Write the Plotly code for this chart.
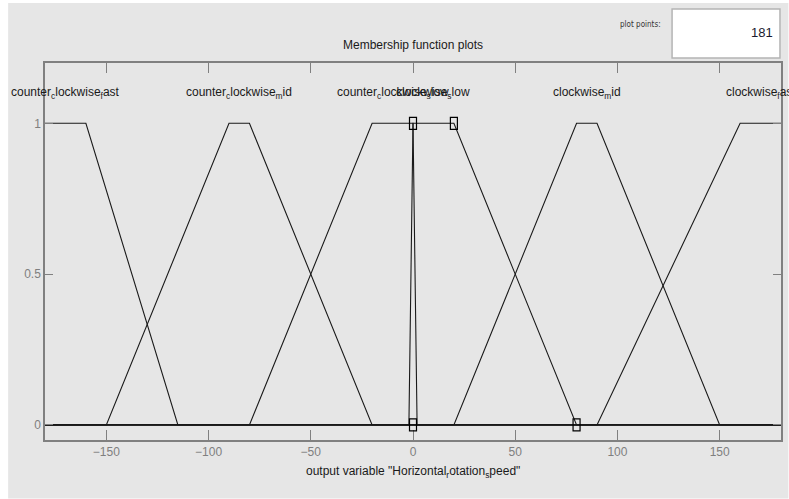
import plotly.graph_objects as go

# Output variable "Horizontal_rotation_speed": trapezoidal membership functions
# (vertices of each function across the full range [-180, 180])
mf_names = [
    "counter<sub>c</sub>lockwise<sub>f</sub>ast",
    "counter<sub>c</sub>lockwise<sub>m</sub>id",
    "counter<sub>c</sub>lockwise<sub>s</sub>low",
    "clockwise<sub>s</sub>low",
    "clockwise<sub>m</sub>id",
    "clockwise<sub>f</sub>ast",
]
ccw_fast_x = [-180, -160, -115, 180]
ccw_fast_y = [1, 1, 0, 0]
ccw_mid_x = [-180, -150, -90, -80, -20, 180]
ccw_mid_y = [0, 0, 1, 1, 0, 0]
ccw_slow_x = [-180, -80, -20, 0, 2, 180]
ccw_slow_y = [0, 0, 1, 1, 0, 0]
cw_slow_x = [-180, -2, 0, 20, 80, 180]
cw_slow_y = [0, 0, 1, 1, 0, 0]
cw_mid_x = [-180, 20, 80, 90, 150, 180]
cw_mid_y = [0, 0, 1, 1, 0, 0]
cw_fast_x = [-180, 90, 160, 180]
cw_fast_y = [0, 0, 1, 1]

# label position: centre of each plateau
label_x = [-170, -85, -10, 10, 85, 170]
label_y = 1.1

# parameters of the selected function (clockwise_slow), shown as handles
handle_x = [0, 20, 0, 80]
handle_y = [1, 1, 0, 0]

x_ticks = [-150, -100, -50, 0, 50, 100, 150]
y_ticks = [0, 0.5, 1]
plot_points = 181

series = [
    (ccw_fast_x, ccw_fast_y), (ccw_mid_x, ccw_mid_y), (ccw_slow_x, ccw_slow_y),
    (cw_slow_x, cw_slow_y), (cw_mid_x, cw_mid_y), (cw_fast_x, cw_fast_y),
]

FONT = "Liberation Sans, Arial, sans-serif"
fig = go.Figure()
for (xs, ys), name in zip(series, mf_names):
    fig.add_trace(go.Scatter(x=xs, y=ys, mode="lines", name=name,
                             line=dict(color="#1a1a1a", width=1.1),
                             hoverinfo="skip", showlegend=False))

# handles: small upright rectangles, fixed pixel size, anchored at each vertex
for hx, hy in zip(handle_x, handle_y):
    fig.add_shape(type="rect", xref="x", yref="y",
                  xsizemode="pixel", ysizemode="pixel",
                  xanchor=hx, yanchor=hy, x0=-3.5, x1=3.5, y0=-6, y1=6,
                  line=dict(color="#000000", width=1.2), fillcolor="rgba(0,0,0,0)")

for lx, name in zip(label_x, mf_names):
    fig.add_annotation(x=lx, y=label_y, xref="x", yref="y", text=name,
                       showarrow=False, font=dict(family=FONT, size=12, color="#1a1a1a"),
                       xanchor="center", yanchor="middle")

# figure panel background
fig.add_shape(type="rect", xref="paper", yref="paper",
              x0=-0.0501, x1=1.01, y0=-0.155, y1=1.159,
              fillcolor="#e6e6e6", line=dict(width=0), layer="below")

# plot points box
fig.add_shape(type="rect", xref="paper", yref="paper",
              x0=0.852, x1=0.9986, y0=1.013, y1=1.143,
              fillcolor="#ffffff", line=dict(color="#b4b4b4", width=1.5))
fig.add_annotation(x=0.992, y=1.08, xref="paper", yref="paper", text=str(plot_points),
                   showarrow=False, xanchor="right", yanchor="middle",
                   font=dict(family=FONT, size=13, color="#1a1a2e"))
fig.add_annotation(x=0.809, y=1.101, xref="paper", yref="paper", text="plot points:",
                   showarrow=False, xanchor="center", yanchor="middle",
                   font=dict(family="DejaVu Sans Condensed, Liberation Sans Narrow, sans-serif",
                             size=8, color="#333333"))

fig.add_annotation(x=0.5, y=1.048, xref="paper", yref="paper",
                   text="Membership function plots", showarrow=False,
                   xanchor="center", yanchor="middle",
                   font=dict(family=FONT, size=12, color="#1a1a1a"))
fig.add_annotation(x=0.5, y=-0.085, xref="paper", yref="paper",
                   text='output variable "Horizontal<sub>r</sub>otation<sub>s</sub>peed"',
                   showarrow=False, xanchor="center", yanchor="middle",
                   font=dict(family=FONT, size=12, color="#1a1a1a"))

axis_common = dict(showgrid=False, zeroline=False, showline=True, mirror="ticks",
                   linecolor="#808080", linewidth=1.5, ticks="inside",
                   tickcolor="#808080", tickwidth=1.2,
                   tickfont=dict(family=FONT, size=12, color="#7f7f7f"))
fig.update_xaxes(range=[-180, 180], tickvals=x_ticks, ticklen=10, **axis_common)
fig.update_yaxes(range=[-0.05, 1.2], tickvals=y_ticks, ticktext=["0", "0.5", "1"],
                 ticklen=8, **axis_common)

fig.update_layout(width=789, height=499,
                  margin=dict(l=45, r=6, t=63, b=59),
                  paper_bgcolor="#ffffff", plot_bgcolor="#ccffff",
                  showlegend=False)

fig.write_html("out.html")
